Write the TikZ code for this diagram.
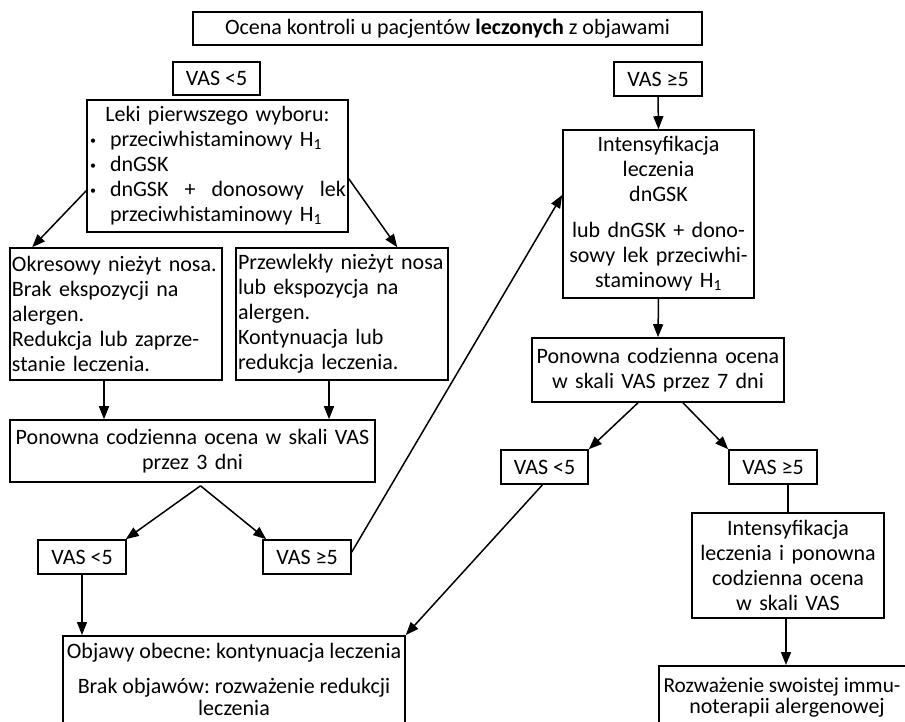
\documentclass[tikz,border=0pt]{standalone}
\usepackage{fontspec}
\setmainfont{Carlito}
\usetikzlibrary{arrows.meta,calc}
\frenchspacing
\newcommand{\bul}{\makebox[21pt][l]{\hspace{1pt}\raisebox{2pt}{\fontsize{12}{12}\selectfont•}}}
\begin{document}
\begin{tikzpicture}[x=1pt,y=-1pt,
  box/.style={draw,line width=1.6pt,inner xsep=2pt,inner ysep=3pt,font=\fontsize{22}{25}\selectfont\frenchspacing,align=center},
  txt/.style={inner sep=0pt,font=\fontsize{22}{25}\selectfont\frenchspacing},
  arr/.style={line width=1.5pt,-{Triangle[length=13pt,width=10pt]}},
  ln/.style={line width=1.5pt}]
\clip (0,0) rectangle (905,722);
\fill[white] (0,0) rectangle (905,722);
% top row
\node[box,minimum width=509pt,minimum height=33pt] (title) at (447.5,28.5) {Ocena kontroli u pacjentów \textbf{leczonych} z objawami};
\node[box,minimum width=87pt,minimum height=33pt] (vasA) at (216.5,78.5) {VAS <5};
\node[box,minimum width=88pt,minimum height=34pt] (vasB) at (658,79) {VAS ≥5};
% left branch
\node[box,text width=257pt,minimum height=132pt,align=left] (leki) at (217.5,166)
  {{\centering Leki pierwszego wyboru:\par}
   \bul przeciwhistaminowy H\textsubscript{1}\par
   \bul dnGSK\par
   \bul dnGSK\hfill+\hfill donosowy\hfill lek\par
   \hspace*{21pt}przeciwhistaminowy H\textsubscript{1}\par};
\node[box,text width=208pt,minimum height=132pt,align=left] (okres) at (116,314)
  {Okresowy nieżyt nosa.\\Brak ekspozycji na\\alergen.\\Redukcja lub zaprze-\\stanie leczenia.};
\node[box,text width=208pt,minimum height=132pt,align=left] (przew) at (342,314)
  {Przewlekły nieżyt nosa\\lub ekspozycja na\\alergen.\\Kontynuacja lub\\redukcja leczenia.};
\node[box,text width=361pt,minimum height=62pt] (pon3) at (192.5,451)
  {Ponowna codzienna ocena w skali VAS\\przez 3 dni};
\node[box,minimum width=88pt,minimum height=34pt] (vasC) at (82,557) {VAS <5};
\node[box,minimum width=88pt,minimum height=34pt] (vasD) at (307,557) {VAS ≥5};
\node[box,minimum width=342pt,minimum height=110pt,anchor=north] (objawy) at (234,635) {};
\node[txt,anchor=base] (objawy1) at (234,658) {Objawy obecne: kontynuacja leczenia};
\node[txt,anchor=base] (objawy2) at (234,693) {Brak objawów: rozważenie redukcji};
\node[txt,anchor=base] (objawy3) at (234,715) {leczenia};
% right branch
\node[box,text width=187pt,minimum height=168pt] (intens) at (658.5,214)
  {Intensyfikacja\\leczenia\\dnGSK\\[11pt]lub dnGSK + dono-\\sowy lek przeciwhi-\\staminowy H\textsubscript{1}};
\node[box,text width=248pt,minimum height=64pt] (pon7) at (658,370)
  {Ponowna codzienna ocena\\w skali VAS przez 7 dni};
\node[box,minimum width=87pt,minimum height=34pt] (vasE) at (544.5,467) {VAS <5};
\node[box,minimum width=88pt,minimum height=34pt] (vasF) at (773,467) {VAS ≥5};
\node[box,text width=188pt,minimum height=105pt] (intens2) at (788,565.5)
  {Intensyfikacja\\leczenia i ponowna\\codzienna ocena\\w skali VAS};
\node[box,minimum width=260pt,minimum height=80pt,anchor=north west] (rozw) at (658,665) {};
\node[txt,anchor=base,font=\fontsize{21.3}{25}\selectfont] (rozw1) at (782,692) {Rozważenie swoistej immu-};
\node[txt,anchor=base] (rozw2) at (787,713) {noterapii alergenowej};
% connectors
\draw[arr] (vasB.south) -- (intens.north);
\draw[arr] ($(leki.south west)+(0,-42)$) -- ($(okres.north west)+(23,0)$);
\draw[arr] ($(leki.south east)+(0,-54)$) -- ($(przew.north west)+(162,0)$);
\draw[arr] ([xshift=-12pt]okres.south) -- ([xshift=-12pt]okres.south |- pon3.north);
\draw[arr] ([xshift=-13pt]przew.south) -- ([xshift=-13pt]przew.south |- pon3.north);
\draw[arr] ($(pon3.south)+(8,3)$) -- ($(vasC.north east)+(-1,0)$);
\draw[arr] ($(pon3.south)+(8,3)$) -- ($(vasD.north west)+(4,0)$);
\draw[arr] ([yshift=5pt]vasD.east) -- ([yshift=19pt]intens.west);
\draw[arr] (vasC.south) -- (vasC.south |- objawy.north);
\draw[arr] (intens.south) -- (pon7.north);
\draw[arr] ([xshift=-20pt]pon7.south) -- (vasE.north east);
\draw[arr] ([xshift=25pt]pon7.south) -- (vasF.north west);
\draw[arr] ([xshift=-2pt]vasE.south) -- (objawy.north east);
\draw[ln] (intens2.north |- vasF.south) -- (intens2.north);
\draw[arr] ([xshift=-2pt]intens2.south) -- ([xshift=-2pt]intens2.south |- rozw.north);
\end{tikzpicture}
\end{document}
